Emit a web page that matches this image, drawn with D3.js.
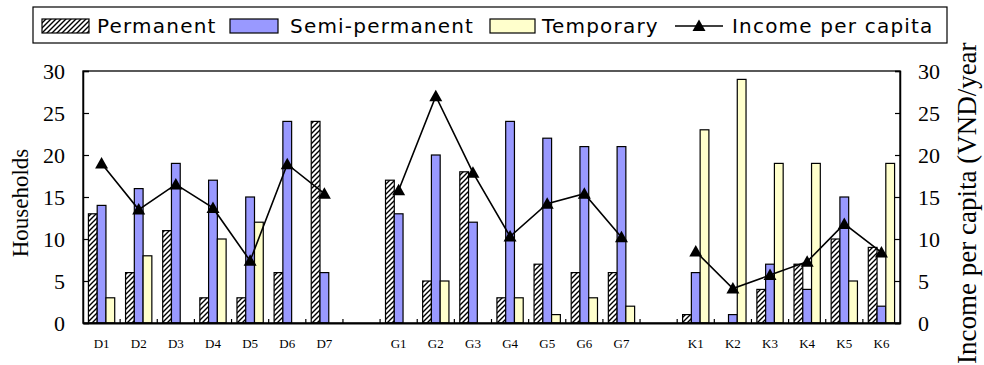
<!DOCTYPE html>
<html>
<head>
<meta charset="utf-8">
<script src="https://cdn.jsdelivr.net/npm/d3@7"></script>
<style>
  html, body { margin: 0; padding: 0; background: #fff; }
  svg { display: block; }
</style>
</head>
<body>
<svg id="chart" width="984" height="365"></svg>
<script>
// ---- Data ----
const categories = ["D1","D2","D3","D4","D5","D6","D7","","G1","G2","G3","G4","G5","G6","G7","","K1","K2","K3","K4","K5","K6"];
const permanent  = [13, 6, 11, 3, 3, 6, 24, null, 17, 5, 18, 3, 7, 6, 6, null, 1, 0, 4, 7, 10, 9];
const semiPermanent = [14, 16, 19, 17, 15, 24, 6, null, 13, 20, 12, 24, 22, 21, 21, null, 6, 1, 7, 4, 15, 2];
const temporary  = [3, 8, 0, 10, 12, 0, 0, null, 0, 5, 0, 3, 1, 3, 2, null, 23, 29, 19, 19, 5, 19];
const income     = [19, 13.5, 16.5, 13.7, 7.4, 18.9, 15.4, null, 15.8, 27, 17.9, 10.3, 14.2, 15.4, 10.2, null, 8.5, 4.1, 5.7, 7.3, 11.8, 8.4];
const yTicks = [0, 5, 10, 15, 20, 25, 30];
const seriesNames = ["Permanent", "Semi-permanent", "Temporary", "Income per capita"];
const leftTitle = "Households";
const rightTitle = "Income per capita (VND/year";

// ---- Layout ----
const plot = { left: 83, right: 900, top: 71, bottom: 323 };
const svg = d3.select("#chart");
const serif = "'Liberation Serif', 'Times New Roman', serif";
const sans = "'DejaVu Sans', sans-serif";

const defs = svg.append("defs");
const pat = defs.append("pattern").attr("id", "hatch")
  .attr("patternUnits", "userSpaceOnUse").attr("width", 5).attr("height", 5);
pat.append("rect").attr("width", 5).attr("height", 5).attr("fill", "#fff");
pat.append("path").attr("d", "M-1,6 L6,-1 M-1,1 L1,-1 M4,6 L6,4")
  .attr("stroke", "#000").attr("stroke-width", 1.4);

const idx = categories.map((d, i) => i);
const x = d3.scaleBand().domain(idx).range([plot.left, plot.right]).padding(0);
const y = d3.scaleLinear().domain([0, 30]).range([plot.bottom, plot.top]);
const y2 = d3.scaleLinear().domain([0, 30]).range([plot.bottom, plot.top]);

const bw = x.bandwidth() * 0.236;
const series = [
  { values: permanent, fill: "url(#hatch)" },
  { values: semiPermanent, fill: "#9999FF" },
  { values: temporary, fill: "#FFFFCC" }
];

// bars
series.forEach((s, si) => {
  svg.append("g").selectAll("rect")
    .data(idx.filter(i => s.values[i] != null && s.values[i] > 0))
    .join("rect")
    .attr("x", i => x(i) + x.bandwidth() / 2 - 1.5 * bw + si * bw)
    .attr("y", i => y(s.values[i]))
    .attr("width", bw)
    .attr("height", i => y(0) - y(s.values[i]))
    .attr("fill", s.fill)
    .attr("stroke", "#000")
    .attr("stroke-width", 1.2);
});

// frame
svg.append("rect").attr("x", plot.left).attr("y", plot.top)
  .attr("width", plot.right - plot.left).attr("height", plot.bottom - plot.top)
  .attr("fill", "none").attr("stroke", "#000").attr("stroke-width", 1.3);

// left axis
const gl = svg.append("g").attr("transform", `translate(${plot.left},0)`)
  .call(d3.axisLeft(y).tickValues(yTicks).tickSize(-6).tickPadding(18).tickFormat(d3.format("d")));
gl.select(".domain").attr("stroke-width", 1.5);
gl.selectAll("line").attr("stroke-width", 1.2);
gl.selectAll("text").attr("font-family", serif).attr("font-size", 22).attr("fill", "#000");

// right axis
const gr = svg.append("g").attr("transform", `translate(${plot.right},0)`)
  .call(d3.axisRight(y2).tickValues(yTicks).tickSize(-5).tickPadding(18).tickFormat(d3.format("d")));
gr.select(".domain").attr("stroke-width", 1.5);
gr.selectAll("line").attr("stroke-width", 1.2);
gr.selectAll("text").attr("font-family", serif).attr("font-size", 22).attr("fill", "#000");

// bottom axis
const gb = svg.append("g").attr("transform", `translate(0,${plot.bottom})`)
  .call(d3.axisBottom(x).tickSize(0).tickPadding(16).tickFormat(i => categories[i]));
gb.select(".domain").attr("stroke-width", 2);
gb.selectAll("text").attr("font-family", serif).attr("font-size", 13).attr("fill", "#000");
// boundary ticks (pointing inward)
svg.append("g").selectAll("line")
  .data(idx.slice(1))
  .join("line")
  .attr("x1", i => x(i)).attr("x2", i => x(i))
  .attr("y1", plot.bottom).attr("y2", plot.bottom - 4)
  .attr("stroke", "#000").attr("stroke-width", 1.2);

// income line
const line = d3.line()
  .defined(i => income[i] != null)
  .x(i => x(i) + x.bandwidth() / 2)
  .y(i => y2(income[i]));
svg.append("path").datum(idx).attr("d", line)
  .attr("fill", "none").attr("stroke", "#000").attr("stroke-width", 1.6);
const tri = "M0,-6.5 L6.5,5 L-6.5,5 Z";
svg.append("g").selectAll("path")
  .data(idx.filter(i => income[i] != null))
  .join("path")
  .attr("d", tri)
  .attr("transform", i => `translate(${x(i) + x.bandwidth() / 2},${y2(income[i])})`)
  .attr("fill", "#000");

// axis titles
svg.append("text")
  .attr("transform", `translate(28,${(plot.top + plot.bottom) / 2 + 6}) rotate(-90)`)
  .attr("text-anchor", "middle")
  .attr("font-family", serif).attr("font-size", 23)
  .text(leftTitle);
svg.append("text")
  .attr("transform", `translate(976,364) rotate(-90)`)
  .attr("text-anchor", "start")
  .attr("font-family", serif).attr("font-size", 27)
  .text(rightTitle);

// legend
const lg = svg.append("g");
lg.append("rect").attr("x", 33).attr("y", 7).attr("width", 914).attr("height", 36)
  .attr("fill", "#fff").attr("stroke", "#000").attr("stroke-width", 1.2);
const sw = [
  { x: 42, w: 47, fill: "url(#hatch)", tx: 97 },
  { x: 230, w: 48, fill: "#9999FF", tx: 290 },
  { x: 490, w: 45, fill: "#FFFFCC", tx: 542 }
];
sw.forEach((s, i) => {
  lg.append("rect").attr("x", s.x).attr("y", 19).attr("width", s.w).attr("height", 14)
    .attr("fill", s.fill).attr("stroke", "#000").attr("stroke-width", 1.2);
  lg.append("text").attr("x", s.tx).attr("y", 33)
    .attr("font-family", sans).attr("font-size", 20).attr("letter-spacing", 1.2)
    .text(seriesNames[i]);
});
lg.append("line").attr("x1", 675).attr("x2", 723).attr("y1", 26).attr("y2", 26)
  .attr("stroke", "#000").attr("stroke-width", 1.6);
lg.append("path").attr("d", tri).attr("transform", "translate(699,26)").attr("fill", "#000");
lg.append("text").attr("x", 732).attr("y", 33)
  .attr("font-family", sans).attr("font-size", 20).attr("letter-spacing", 1.2)
  .text(seriesNames[3]);
</script>
</body>
</html>
